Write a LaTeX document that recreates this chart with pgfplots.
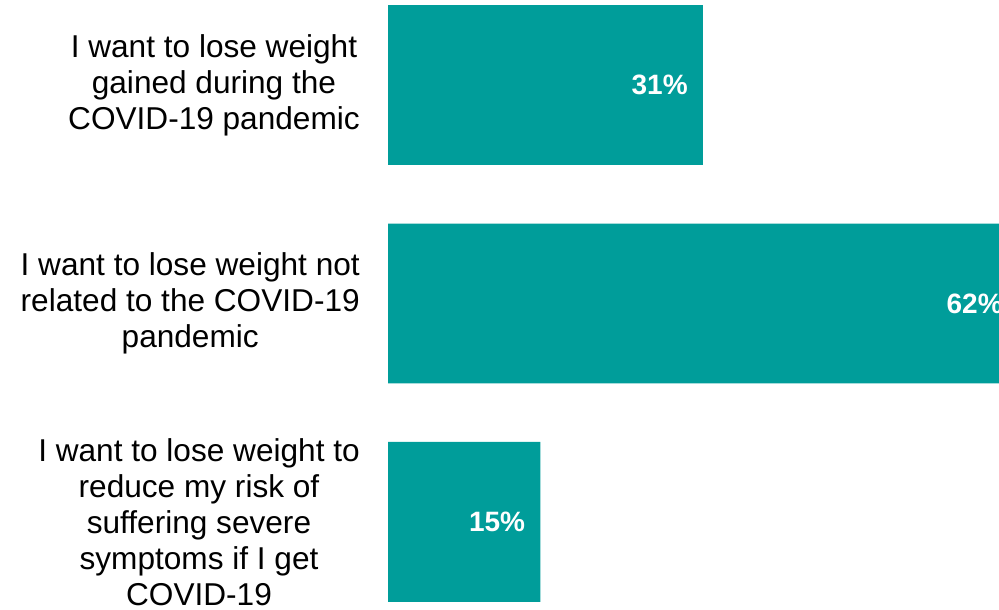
\documentclass[border=0pt]{standalone}
\usepackage{pgfplots}
\pgfplotsset{compat=1.18}
\usepackage{fontspec}
\setmainfont{Liberation Sans}
\definecolor{barteal}{HTML}{009D9A}
\begin{document}
\begin{tikzpicture}
\path[use as bounding box, clip] (0pt,0pt) rectangle (749.25pt,457.5pt);
\begin{axis}[
  at={(291pt,0pt)}, anchor=south west,
  scale only axis,
  width=495.3pt, height=457.5pt,
  xbar, bar width=0.732,
  xmin=0, xmax=65,
  ymin=-0.389, ymax=2.403,
  y dir=reverse,
  axis x line=none,
  axis y line=left,
  y axis line style={draw=none},
  major tick length=0pt,
  ytick={0,1,2},
  yticklabels={{I want to lose weight\\gained during the\\COVID-19 pandemic},
               {I want to lose weight not\\related to the COVID-19\\pandemic},
               {I want to lose weight to\\reduce my risk of\\suffering severe\\symptoms if I get\\COVID-19}},
  yticklabel style={align=center, anchor=east, inner sep=0pt, xshift=-21pt,
    font=\fontsize{23.7}{27}\selectfont},
  point meta=x,
  nodes near coords={\pgfmathprintnumber[assume math mode=true]{\pgfplotspointmeta}\%},
  every node near coord/.append style={anchor=east, xshift=-11.25pt, inner sep=0pt,
    text=white, font=\fontsize{21}{25}\selectfont\bfseries},
]
\addplot[fill=barteal, draw=none] coordinates {(31,0) (62,1) (15,2)};
\end{axis}
\end{tikzpicture}
\end{document}
